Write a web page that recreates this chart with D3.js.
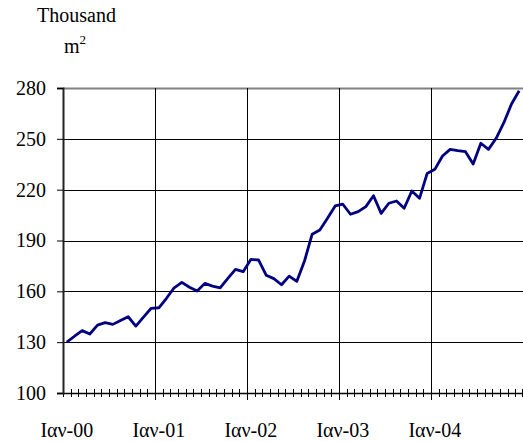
<!DOCTYPE html>
<html>
<head>
<meta charset="utf-8">
<script src="https://cdn.jsdelivr.net/npm/d3@7"></script>
<style>
  body { margin: 0; background: #fff; }
  text { font-family: "Liberation Serif", "Times New Roman", serif; fill: #000; }
</style>
</head>
<body>
<div id="chart"></div>
<script>
// Monthly values, Jan 2000 .. Dec 2004 (thousand m2)
var monthNames = ["Ιαν","Φεβ","Μαρ","Απρ","Μαϊ","Ιουν","Ιουλ","Αυγ","Σεπ","Οκτ","Νοε","Δεκ"];
var years = ["00","01","02","03","04"];
var values = [
  130.0, 133.5, 136.8, 134.8, 140.1, 141.5, 140.5, 142.8, 145.0, 139.5, 144.8, 150.0,
  150.3, 155.9, 162.1, 165.3, 162.4, 160.2, 164.7, 163.1, 162.1, 167.7, 173.0, 171.6,
  178.8, 178.5, 169.5, 167.5, 163.9, 169.0, 165.9, 177.9, 193.7, 196.2, 203.1, 210.4,
  211.4, 205.5, 207.0, 210.0, 216.4, 206.0, 212.0, 213.3, 209.0, 219.2, 214.9, 229.6,
  232.0, 239.9, 243.8, 243.0, 242.4, 235.1, 247.4, 243.8, 250.3, 259.5, 270.6, 278.4
];
var yTicks = [100, 130, 160, 190, 220, 250, 280];
var xTickLabels = ["Ιαν-00", "Ιαν-01", "Ιαν-02", "Ιαν-03", "Ιαν-04"];

var categories = [];
years.forEach(function(yy){
  monthNames.forEach(function(m){ categories.push(m + "-" + yy); });
});
var data = values.map(function(v, i){ return {cat: categories[i], value: v}; });

var width = 523, height = 442;
var plot = {left: 63, right: 523, top: 88, bottom: 393};

var svg = d3.select("#chart").append("svg")
    .attr("width", width)
    .attr("height", height);

var x = d3.scaleBand().domain(categories).range([plot.left, plot.right]).padding(0);
var y = d3.scaleLinear().domain([100, 280]).range([plot.bottom, plot.top]);
var bw = x.bandwidth();

// horizontal gridlines
svg.append("g").selectAll("line")
    .data(yTicks)
    .enter().append("line")
    .attr("x1", plot.left).attr("x2", plot.right)
    .attr("y1", function(d){ return Math.round(y(d)) + 0.5; })
    .attr("y2", function(d){ return Math.round(y(d)) + 0.5; })
    .attr("stroke", function(d){ return d === 280 ? "#808080" : "#000"; })
    .attr("stroke-width", function(d){ return d === 280 ? 2 : 1; });

// vertical gridlines at year boundaries
var yearStarts = categories.filter(function(c, i){ return i % 12 === 0 && i > 0; });
svg.append("g").selectAll("line")
    .data(yearStarts)
    .enter().append("line")
    .attr("x1", function(d){ return Math.round(x(d)) + 0.5; })
    .attr("x2", function(d){ return Math.round(x(d)) + 0.5; })
    .attr("y1", plot.top).attr("y2", plot.bottom + 7)
    .attr("stroke", "#000");

// monthly ticks on x axis
var boundaries = categories.map(function(c){ return x(c); }).concat([plot.right - 1]);
svg.append("g").selectAll("line")
    .data(boundaries)
    .enter().append("line")
    .attr("x1", function(d){ return Math.round(d) + 0.5; })
    .attr("x2", function(d){ return Math.round(d) + 0.5; })
    .attr("y1", plot.bottom - 4).attr("y2", plot.bottom + 4)
    .attr("stroke", "#000");

// x axis line
svg.append("line")
    .attr("x1", plot.left).attr("x2", plot.right)
    .attr("y1", plot.bottom + 0.5).attr("y2", plot.bottom + 0.5)
    .attr("stroke", "#000").attr("stroke-width", 1.5);

// y axis
var yAxis = svg.append("g")
    .attr("transform", "translate(" + plot.left + ",0)")
    .call(d3.axisLeft(y).tickValues(yTicks).tickSize(6).tickPadding(11));
yAxis.select(".domain").attr("stroke", "#222").attr("stroke-width", 2);
yAxis.selectAll("text").style("font-size", "20px").attr("font-family", null);

// x tick labels
svg.append("g").selectAll("text")
    .data(xTickLabels)
    .enter().append("text")
    .attr("x", function(d){ return x(d) + bw / 2; })
    .attr("y", 437)
    .attr("text-anchor", "middle")
    .style("font-size", "20px")
    .text(function(d){ return d; });

// the line
var line = d3.line()
    .x(function(d){ return x(d.cat) + bw / 2; })
    .y(function(d){ return y(d.value); });

svg.append("path")
    .datum(data)
    .attr("d", line)
    .attr("fill", "none")
    .attr("stroke", "#000080")
    .attr("stroke-width", 2.8)
    .attr("stroke-linejoin", "round");

// unit label
svg.append("text").attr("x", 37).attr("y", 22).style("font-size", "20px").text("Thousand");
var unit = svg.append("text").attr("x", 64).attr("y", 53).style("font-size", "20px");
unit.append("tspan").text("m");
unit.append("tspan").attr("dy", -9).style("font-size", "13px").text("2");
</script>
</body>
</html>
